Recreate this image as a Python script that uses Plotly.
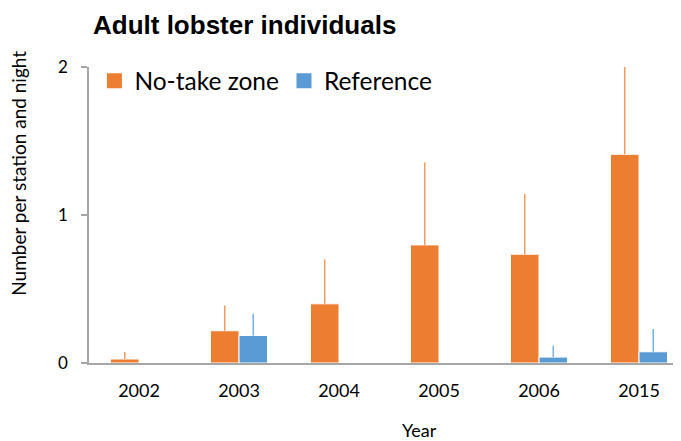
import plotly.graph_objects as go

years = ["2002", "2003", "2004", "2005", "2006", "2015"]
no_take = [0.027, 0.218, 0.40, 0.798, 0.735, 1.41]
no_take_err = [0.047, 0.17, 0.30, 0.557, 0.407, 0.59]
reference = [None, 0.186, None, None, 0.04, 0.076]
reference_err = [0, 0.149, 0, 0, 0.077, 0.153]
series_names = ["No-take zone", "Reference"]

ORANGE = "#ED7D31"
BLUE = "#5B9BD5"
FONT = "Lato"

fig = go.Figure()
fig.add_trace(go.Bar(
    x=years, y=no_take, name=series_names[0], showlegend=False,
    marker=dict(color=ORANGE, line=dict(color="white", width=1)),
    error_y=dict(type="data", symmetric=False, array=no_take_err,
                 arrayminus=[0] * len(years), width=0, thickness=1.5,
                 color="#F29A5E"),
))
fig.add_trace(go.Bar(
    x=years, y=reference, name=series_names[1], showlegend=False,
    marker=dict(color=BLUE, line=dict(color="white", width=1)),
    error_y=dict(type="data", symmetric=False, array=reference_err,
                 arrayminus=[0] * len(years), width=0, thickness=1.5,
                 color="#7DB0E0"),
))
# legend entries with larger square swatches
for name, col in zip(series_names, [ORANGE, BLUE]):
    fig.add_trace(go.Scatter(
        x=[None], y=[None], mode="markers", name=name,
        marker=dict(symbol="square", size=15, color=col),
    ))

# the page body adds an 8px offset; margins compensate for it
fig.update_layout(
    width=681, height=441,
    margin=dict(l=81, r=0, t=59, b=86),
    plot_bgcolor="white", paper_bgcolor="white",
    barmode="group", bargap=0.43, bargroupgap=0,
    font=dict(family=FONT, color="black"),
    showlegend=True,
    legend=dict(orientation="h", x=0.009, y=0.953, xanchor="left", yanchor="middle",
                font=dict(family=FONT, size=24.5), bgcolor="rgba(0,0,0,0)",
                itemwidth=30, traceorder="normal"),
    xaxis=dict(range=[-0.5, 5.5], showgrid=False, showline=True, automargin=False,
               linecolor="#A6A6A6", linewidth=1.5, ticks="outside", ticklen=11,
               tickcolor="rgba(0,0,0,0)", tickfont=dict(family=FONT, size=18)),
    yaxis=dict(range=[0, 2], tickvals=[0, 1, 2], showgrid=False, showline=True,
               automargin=False,
               linecolor="#A6A6A6", linewidth=1.5, ticks="outside", ticklen=6,
               tickcolor="#A6A6A6", tickwidth=1.5, zeroline=False,
               ticklabelstandoff=10, tickfont=dict(family=FONT, size=17)),
    annotations=[
        dict(text="<b>Adult lobster individuals</b>", xref="paper", yref="paper",
             x=0.003, y=1.142, xanchor="left", yanchor="middle", showarrow=False,
             font=dict(family="Liberation Sans, Arial, sans-serif", size=26, color="black")),
        dict(text="Number per station and night", xref="paper", yref="paper",
             x=-0.118, y=0.64, xanchor="center", yanchor="middle", textangle=-90,
             showarrow=False, font=dict(family=FONT, size=19, color="black")),
        dict(text="Year", xref="paper", yref="paper",
             x=0.55, y=-0.228, xanchor="center", yanchor="middle",
             showarrow=False, font=dict(family=FONT, size=18, color="black")),
    ],
)

fig.write_html("out.html")
